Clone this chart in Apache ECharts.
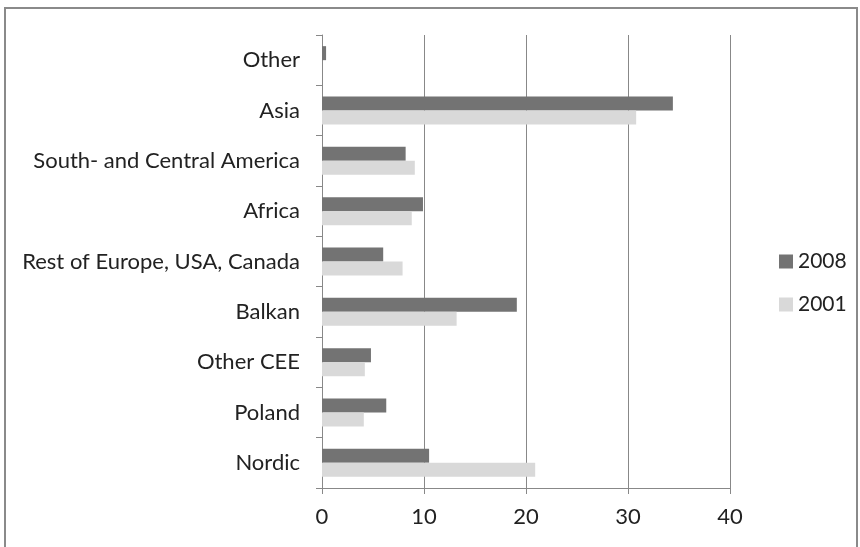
<!DOCTYPE html>
<html><head><meta charset="utf-8">
<script src="https://cdn.jsdelivr.net/npm/echarts@6/dist/echarts.min.js"></script>
<style>html,body{margin:0;padding:0;background:#fff}#c{width:860px;height:547px}</style>
</head><body><div id="c"></div>
<script>
const categories = ["Nordic","Poland","Other CEE","Balkan","Rest of Europe, USA, Canada","Africa","South- and Central America","Asia","Other"];
const values2008 = [10.5, 6.3, 4.8, 19.1, 6.0, 9.9, 8.2, 34.4, 0.4];
const values2001 = [20.9, 4.1, 4.2, 13.2, 7.9, 8.8, 9.1, 30.8, 0];
const xTicks = [0, 10, 20, 30, 40];
const seriesNames = ["2008", "2001"];

const chart = echarts.init(document.getElementById('c'), null, {renderer: 'canvas'});
const font = 'Lato, "Open Sans", sans-serif';
chart.setOption({
  animation: false,
  backgroundColor: '#fff',
  graphic: [{type: 'rect', shape: {x: 5, y: 8, width: 852, height: 560}, style: {fill: 'none', stroke: '#8a8a8a', lineWidth: 2}, silent: true}],
  grid: {left: 322, right: 130, top: 35, bottom: 59, containLabel: false},
  legend: {
    orient: 'vertical', left: 774, top: 246, itemWidth: 14, itemHeight: 14, itemGap: 22, itemTextGap: 6,
    data: seriesNames, icon: 'rect',
    textStyle: {fontFamily: font, fontSize: 21, color: '#222'}
  },
  xAxis: {
    type: 'value', min: xTicks[0], max: xTicks[xTicks.length - 1], interval: 10,
    axisLine: {show: true, lineStyle: {color: '#888', width: 1}},
    axisTick: {show: true, length: 6, lineStyle: {color: '#888'}},
    axisLabel: {fontFamily: font, fontSize: 22, color: '#222', margin: 18},
    splitLine: {show: true, lineStyle: {color: '#888', width: 1}}
  },
  yAxis: {
    type: 'category', data: categories,
    axisLine: {show: true, lineStyle: {color: '#888', width: 1}},
    axisTick: {show: true, length: 6, lineStyle: {color: '#888'}},
    axisLabel: {fontFamily: font, fontSize: 22, color: '#222', margin: 22},
    splitLine: {show: false}
  },
  series: [
    {name: seriesNames[0], type: 'bar', data: values2008, barWidth: 14, barGap: '0%',
     itemStyle: {color: '#737373'}},
    {name: seriesNames[1], type: 'bar', data: values2001, barWidth: 14, barGap: '0%',
     itemStyle: {color: '#d9d9d9'}}
  ]
});
</script></body></html>
